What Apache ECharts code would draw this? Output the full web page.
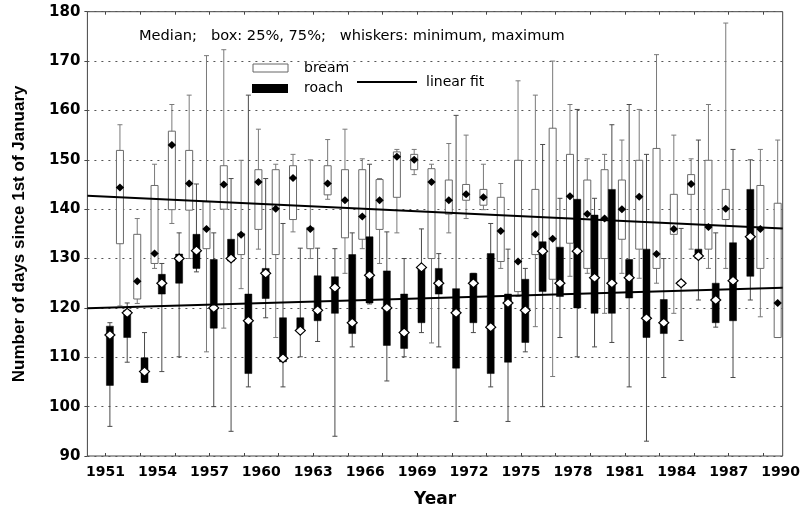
<!DOCTYPE html>
<html>
<head>
<meta charset="utf-8">
<script src="https://cdn.jsdelivr.net/npm/echarts@6/dist/echarts.min.js"></script>
<style>html,body{margin:0;padding:0;background:#fff;}#chart{width:811px;height:514px;}</style>
</head>
<body>
<div id="chart"></div>
<script>
// ---- data ----
const years = [1951,1952,1953,1954,1955,1956,1957,1958,1959,1960,1961,1962,1963,1964,1965,1966,1967,1968,1969,1970,1971,1972,1973,1974,1975,1976,1977,1978,1979,1980,1981,1982,1983,1984,1985,1986,1987,1988,1989];
// [min, q1, median, q3, max]
const bream = [
  [120.4,133.0,144.4,151.9,157.1],
  [120.9,121.8,125.4,134.9,138.1],
  [128.0,129.0,131.0,144.8,149.1],
  [137.1,139.9,153.0,155.8,161.2],
  [130.0,139.8,145.2,151.9,163.1],
  [111.1,132.0,136.0,141.5,171.1],
  [115.9,140.0,145.0,148.8,172.3],
  [123.9,130.8,134.8,135.1,149.9],
  [131.9,135.9,145.5,148.0,156.2],
  [114.0,130.8,140.1,148.0,149.1],
  [135.4,137.9,146.3,148.8,151.1],
  [130.0,132.0,136.0,136.3,150.0],
  [142.0,142.9,145.2,148.8,154.1],
  [127.0,134.2,141.8,148.0,156.2],
  [132.0,133.9,138.5,148.0,150.2],
  [129.0,135.9,141.8,146.0,146.2],
  [135.2,142.4,150.6,151.6,152.1],
  [147.0,148.0,150.0,151.1,152.1],
  [112.9,130.0,145.5,148.2,149.1],
  [135.2,139.0,141.8,145.9,153.3],
  [138.1,141.8,143.0,145.0,155.0],
  [139.9,140.8,142.4,144.0,149.1],
  [128.0,129.4,135.6,142.4,145.2],
  [122.3,123.3,129.4,149.9,166.0],
  [116.2,130.8,134.9,144.0,163.1],
  [106.1,125.8,134.0,156.4,170.0],
  [126.4,133.1,142.6,151.1,161.2],
  [127.0,128.0,139.0,145.9,150.2],
  [118.9,130.0,138.1,148.0,151.1],
  [127.0,133.9,140.0,145.9,154.0],
  [126.0,131.9,142.5,149.9,160.2],
  [125.0,128.0,130.9,152.3,171.3],
  [118.9,134.9,136.0,143.0,155.0],
  [131.9,143.0,145.1,147.0,150.2],
  [128.0,131.9,136.4,149.9,161.2],
  [128.0,137.9,140.1,144.0,177.7],
  null,
  [118.2,128.0,136.0,144.8,152.1],
  [114.0,114.0,121.0,141.2,154.0]
];
const roach = [
  [96.0,104.3,114.5,116.3,117.0],
  [109.0,114.0,119.0,119.5,121.0],
  [104.9,104.9,107.1,109.9,115.0],
  [107.1,122.8,125.0,126.8,129.0],
  [110.1,125.0,130.0,130.9,135.2],
  [127.3,128.0,131.6,134.9,145.1],
  [100.0,115.9,120.0,129.8,135.2],
  [95.0,129.5,130.0,133.9,146.2],
  [104.0,106.7,117.4,122.8,163.1],
  [118.0,121.9,127.0,128.0,146.2],
  [104.0,109.1,109.8,118.0,137.1],
  [110.1,115.2,115.4,118.0,132.1],
  [113.2,117.4,119.5,126.5,132.1],
  [94.0,118.9,124.1,126.3,132.0],
  [112.1,114.8,117.0,130.8,135.2],
  [120.8,121.0,126.6,134.4,149.1],
  [105.2,112.4,120.0,127.5,135.4],
  [110.1,111.8,115.0,122.8,130.0],
  [115.0,117.0,128.2,128.5,136.0],
  [112.1,122.8,125.0,128.0,131.0],
  [97.0,107.8,119.0,123.9,159.0],
  [115.0,117.0,125.0,127.0,127.0],
  [104.0,106.7,116.1,131.0,137.1],
  [97.0,109.0,121.0,122.8,131.9],
  [111.1,113.0,119.5,125.8,128.0],
  [100.0,123.3,131.5,133.4,153.1],
  [114.0,122.3,125.0,132.3,142.2],
  [110.1,120.0,131.5,142.0,160.2],
  [112.1,118.9,126.1,138.8,142.2],
  [113.0,118.9,125.0,144.0,157.1],
  [104.0,122.0,126.1,129.8,161.2],
  [93.0,114.0,117.9,131.9,151.1],
  [105.9,114.8,117.0,121.7,130.0],
  [113.4,124.6,125.0,125.4,136.1],
  [121.6,130.0,130.5,131.9,154.0],
  [116.1,117.0,121.6,125.0,135.2],
  [105.9,117.4,125.5,133.2,152.1],
  [121.6,126.4,134.4,144.0,150.0],
  null
];
// linear fits: endpoints [year, days]
const breamFit = [[1949.95,142.7],[1990.12,136.1]];
const roachFit = [[1949.95,119.95],[1990.12,124.1]];
// tick labels
const xLabelYears = [1951,1954,1957,1960,1963,1966,1969,1972,1975,1978,1981,1984,1987,1990];
const xTickYears = [1951,1953,1955,1957,1959,1961,1963,1965,1967,1969,1971,1973,1975,1977,1979,1981,1983,1985,1987,1989];

// ---- build ----
const ROACH_OFF = 0.25, BREAM_OFF = 0.83;
function build(arr, off){
  const out = [];
  arr.forEach((v,i)=>{ if(v) out.push([years[i]+off].concat(v)); });
  return out;
}
function makeRender(kind){
  return function(params, api){
    const x = api.value(0);
    const pMin = api.coord([x, api.value(1)]);
    const pQ1 = api.coord([x, api.value(2)]);
    const pMed = api.coord([x, api.value(3)]);
    const pQ3 = api.coord([x, api.value(4)]);
    const pMax = api.coord([x, api.value(5)]);
    const cx = pMin[0];
    const hw = 3.5, cap = 2.5;
    const wc = kind === 'bream' ? '#7a7a7a' : '#4a4a4a';
    const ch = [];
    ch.push({type:'line', shape:{x1:cx,y1:pMax[1],x2:cx,y2:pMin[1]}, style:{stroke:wc,lineWidth:1}});
    ch.push({type:'line', shape:{x1:cx-cap,y1:pMax[1],x2:cx+cap,y2:pMax[1]}, style:{stroke:wc,lineWidth:1}});
    ch.push({type:'line', shape:{x1:cx-cap,y1:pMin[1],x2:cx+cap,y2:pMin[1]}, style:{stroke:wc,lineWidth:1}});
    const h = Math.max(pQ1[1]-pQ3[1], 1);
    if(kind === 'bream'){
      ch.push({type:'rect', shape:{x:cx-hw,y:pQ3[1],width:hw*2,height:h}, style:{fill:'#fff',stroke:'#6a6a6a',lineWidth:1}});
      const y = pMed[1];
      ch.push({type:'polygon', shape:{points:[[cx,y-4],[cx+4.2,y],[cx,y+4],[cx-4.2,y]]}, style:{fill:'#000'}});
    } else {
      ch.push({type:'rect', shape:{x:cx-hw,y:pQ3[1],width:hw*2,height:h}, style:{fill:'#000',stroke:'#000',lineWidth:0.5}});
      const y = pMed[1];
      ch.push({type:'polygon', shape:{points:[[cx,y-4.5],[cx+5,y],[cx,y+4.5],[cx-5,y]]}, style:{fill:'#fff',stroke:'#000',lineWidth:1.2}});
    }
    return {type:'group', children: ch};
  };
}

const XMIN = 1949.95, XMAX = 1990.12;
const chart = echarts.init(document.getElementById('chart'), null, {renderer:'canvas'});
const boldFont = 'DejaVu Sans';
chart.setOption({
  animation:false,
  backgroundColor:'#fff',
  grid:{left:87.4, right:28.3, top:11.7, bottom:58, show:true, borderColor:'#444', borderWidth:1, backgroundColor:'transparent'},
  xAxis:[{
    type:'value', min:XMIN, max:XMAX, position:'bottom',
    axisLine:{show:false},
    splitLine:{show:false},
    axisTick:{show:true, inside:true, length:3, customValues:xTickYears, lineStyle:{color:'#444'}},
    axisLabel:{customValues:xLabelYears, margin:9, fontFamily:boldFont, fontWeight:'bold', fontSize:14, color:'#000', formatter:v=>String(Math.round(v))},
    name:'Year', nameLocation:'middle', nameGap:35,
    nameTextStyle:{fontFamily:boldFont, fontWeight:'bold', fontSize:17, color:'#000'}
  },{
    type:'value', min:XMIN, max:XMAX, position:'top',
    axisLine:{show:false}, splitLine:{show:false}, axisLabel:{show:false},
    axisTick:{show:true, inside:true, length:3, customValues:xTickYears, lineStyle:{color:'#444'}}
  }],
  yAxis:{
    type:'value', min:90, max:180, interval:10,
    axisLine:{show:false},
    axisTick:{show:true, inside:false, length:3, lineStyle:{color:'#444'}},
    axisLabel:{margin:7, fontFamily:boldFont, fontWeight:'bold', fontSize:15, color:'#000'},
    splitLine:{show:true, lineStyle:{color:'#555', width:1, type:[2,5]}},
    name:'Number of days since 1st of January', nameLocation:'middle', nameGap:60,
    nameTextStyle:{fontFamily:'Liberation Sans', fontWeight:'bold', fontSize:17, color:'#000'}
  },
  graphic:[
    {type:'text', left:139, top:29, style:{text:'Median;   box: 25%, 75%;   whiskers: minimum, maximum', font:'14.6px "DejaVu Sans"', fill:'#000'}},
    {type:'rect', shape:{x:253, y:64, width:35, height:8}, style:{fill:'#fff', stroke:'#666', lineWidth:1}},
    {type:'rect', shape:{x:252, y:84, width:36, height:9}, style:{fill:'#000'}},
    {type:'text', left:304, top:61, style:{text:'bream', font:'14px "DejaVu Sans"', fill:'#000'}},
    {type:'text', left:304, top:81, style:{text:'roach', font:'14px "DejaVu Sans"', fill:'#000'}},
    {type:'line', shape:{x1:357, y1:82, x2:417, y2:82}, style:{stroke:'#000', lineWidth:2}},
    {type:'text', left:426, top:75, style:{text:'linear fit', font:'14px "DejaVu Sans"', fill:'#000'}}
  ],
  series:[
    {type:'custom', name:'bream', renderItem:makeRender('bream'), data:build(bream, BREAM_OFF), encode:{x:0, y:[1,2,3,4,5]}, z:2, clip:true},
    {type:'custom', name:'roach', renderItem:makeRender('roach'), data:build(roach, ROACH_OFF), encode:{x:0, y:[1,2,3,4,5]}, z:3, clip:true},
    {type:'line', name:'bream fit', data:breamFit, showSymbol:false, lineStyle:{color:'#000', width:2}, z:4},
    {type:'line', name:'roach fit', data:roachFit, showSymbol:false, lineStyle:{color:'#000', width:2}, z:4}
  ]
});
</script>
</body>
</html>
